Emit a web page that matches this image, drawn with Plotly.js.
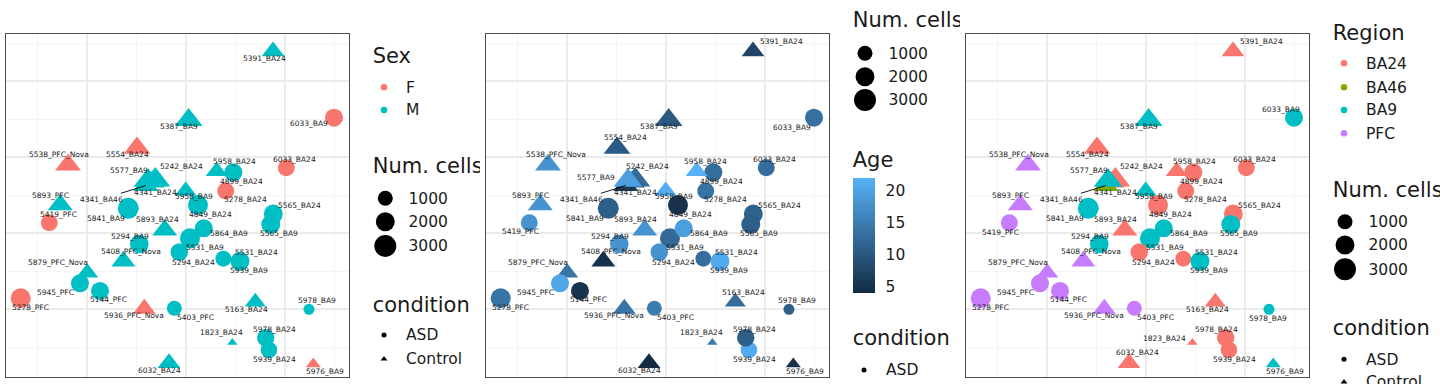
<!DOCTYPE html>
<html><head><meta charset="utf-8">
<script src="https://cdn.plot.ly/plotly-3.0.1.min.js"></script>
<style>html,body{margin:0;padding:0;background:#fff}#chart{width:1440px;height:384px}</style>
</head><body><div id="chart"></div>
<script>
// ---------------- data ----------------
const samples = ["5391_BA24","5387_BA9","6033_BA9","5554_BA24","5538_PFC_Nova","6033_BA24","4899_BA24","5958_BA24","4341_BA24","4341_BA46","5242_BA24","5577_BA9","5958_BA9","5278_BA24","5893_PFC","5565_BA24","5565_BA9","5841_BA9","4849_BA24","5419_PFC","5893_BA24","5531_BA9","5864_BA9","5294_BA9","5294_BA24","5408_PFC_Nova","5531_BA24","5939_BA9","5879_PFC_Nova","5945_PFC","5144_PFC","5278_PFC","5936_PFC_Nova","5403_PFC","5163_BA24","5978_BA9","1823_BA24","5939_BA24","5978_BA24","6032_BA24","5976_BA9"];
const dim1 = [0.879,0.027,1.495,-0.495,-1.192,1.013,0.478,0.310,-0.343,-0.406,-0.310,-0.384,-0.003,0.401,-1.270,0.882,0.856,-0.583,0.121,-1.381,-0.215,0.040,0.179,-0.472,-0.068,-0.633,0.377,0.545,-0.997,-1.071,-0.869,-1.670,-0.421,-0.118,0.700,1.242,0.468,0.838,0.805,-0.172,1.286];
const dim2 = [1.391,0.487,0.517,0.118,-0.105,-0.141,-0.201,-0.188,-0.329,-0.375,-0.303,-0.308,-0.447,-0.447,-0.629,-0.750,-0.886,-0.675,-0.632,-0.864,-0.961,-1.070,-0.938,-1.145,-1.250,-1.372,-1.338,-1.372,-1.522,-1.662,-1.763,-1.859,-1.996,-1.991,-1.908,-2.004,-2.442,-2.539,-2.378,-2.711,-2.724];
const numCells = [1450,2550,1750,2300,2100,1450,1750,1300,2000,1900,3100,2800,1300,1450,1900,2000,2000,2650,2350,1450,1900,2350,1750,1900,1600,1700,1200,2000,1300,1750,1750,2350,1450,1000,1150,340,60,1350,1600,1450,350];
const age = [7.5,10.3,13.3,10.5,18,13,13,22,9,6,12.5,19.5,21.5,13.5,18,11.5,11,11,5,18,18,12.5,19.5,18,18,5,13,21,14,20.5,5,14,14,15,13,11,15,21,11,4,4.5];
const sex = ["M","M","F","F","F","F","M","M","M","M","M","M","M","F","M","M","M","M","M","F","M","M","M","M","M","M","M","M","M","M","M","F","F","M","M","M","M","M","M","M","F"];
const region = ["BA24","BA9","BA9","BA24","PFC","BA24","BA24","BA24","BA24","BA46","BA24","BA9","BA9","BA24","PFC","BA24","BA9","BA9","BA24","PFC","BA24","BA9","BA9","BA9","BA24","PFC","BA24","BA9","PFC","PFC","PFC","PFC","PFC","PFC","BA24","BA9","BA24","BA24","BA24","BA24","BA9"];
const condition = ["Control","Control","ASD","Control","Control","ASD","ASD","Control","Control","Control","Control","Control","Control","ASD","Control","ASD","ASD","ASD","ASD","ASD","Control","ASD","ASD","ASD","ASD","Control","ASD","ASD","Control","ASD","ASD","ASD","Control","ASD","Control","ASD","Control","ASD","ASD","Control","Control"];

const sexLevels = ["F","M"];
const regionLevels = ["BA24","BA46","BA9","PFC"];
const conditionLevels = ["ASD","Control"];
const sizeBreaks = [1000,2000,3000];
const ageTicks = [5,10,15,20];

// ---------------- styles ----------------
const FONT = "DejaVu Sans, sans-serif";
const sexColors = {F:"#F8766D", M:"#00BFC4"};
const regionColors = {BA24:"#F8766D", BA46:"#7CAE00", BA9:"#00BFC4", PFC:"#C77CFF"};
const symbolFor = {ASD:"circle", Control:"triangle-up"};
function diam(n){ return 5.5 + 0.3*Math.sqrt(n); }
function msize(n, cond){ return cond === "Control" ? 1.167*diam(n) : diam(n); }

// label nudges in pixels [dx, dy(down)], with per-panel overrides
const nudge = {
 "5391_BA24":[-8.3,7],"5387_BA9":[-9.4,6.7],"6033_BA9":[-25.3,5.6],"5554_BA24":[-9.3,6.7],
 "5538_PFC_Nova":[-9,-10.3],"6033_BA24":[8.7,-8.4],"4899_BA24":[8.4,9.4],"5958_BA24":[18.3,-10],
 "4341_BA24":[3.8,10.7],"4341_BA46":[-44.1,13.8],"5242_BA24":[26.4,-13.3],"5577_BA9":[-18.7,-10.1],
 "5958_BA9":[8.5,5.7],"5278_BA24":[19.3,8.3],"5893_PFC":[-9.3,-9.5],"5565_BA24":[25.9,-8.5],
 "5565_BA9":[8.6,9],"5841_BA9":[-22,10],"4849_BA24":[12.7,9.7],"5419_PFC":[9,-8],
 "5893_BA24":[-7,-10.7],"5531_BA9":[15.3,9],"5864_BA9":[25.6,5],"5294_BA9":[-9,-7.3],
 "5294_BA24":[14.4,10.3],"5408_PFC_Nova":[7.9,-9.6],"5531_BA24":[32.7,-6.4],"5939_BA9":[9.3,9],
 "5879_PFC_Nova":[-29.3,-10.4],"5945_PFC":[-24,9],"5144_PFC":[9,9],"5278_PFC":[9.6,9],
 "5936_PFC_Nova":[-10,6.6],"5403_PFC":[20.7,9],"5163_BA24":[-8.3,7.3],"5978_BA9":[8.2,-9.3],
 "1823_BA24":[-11.3,-10.3],"5939_BA24":[6,9.3],"5978_BA24":[9.3,-8.4],"6032_BA24":[-9,7.7],
 "5976_BA9":[11.9,7.7]
};
const nudgeP2 = {"5391_BA24":[28,-9.6],"6033_BA9":[-21.8,10],"5554_BA24":[8.7,-10.7],"5538_PFC_Nova":[8.2,-10.3],
 "5958_BA24":[9,-10],"5242_BA24":[11.7,-13.3],"5577_BA9":[-32,-3.1],"5419_PFC":[-8.5,9],"5841_BA9":[-23.1,10],
 "5893_BA24":[-9,-10.7],"5163_BA24":[8.4,-9.7]};
const nudgeP3 = {"5391_BA24":[28,-9.6],"6033_BA9":[-12.7,-8.4],"5419_PFC":[-8.5,9.6],"5841_BA9":[-23.1,10],
 "5893_BA24":[-9,-10.7],"5978_BA9":[-0.5,9],"1823_BA24":[-28,-4.3],"5978_BA24":[-8.7,-8.4],"6032_BA24":[9,-10.7]};
const segmentLabels = ["4341_BA46"];

const W = 1440, H = 384;
const panelLeft = [5.7, 485.7, 965.7], panelW = 343.6;
const panelTop = 34.3, panelBottom = 377.3;
const xRange = [-1.8212, 1.6495], yRange = [-2.8987, 1.6145];

const traces = [];
const annotations = [];
const shapes = [];
const layout = {
  width: W, height: H, margin:{l:0,r:0,t:0,b:0},
  paper_bgcolor:"#fff", plot_bgcolor:"#fff", showlegend:false,
  font:{family:FONT, color:"#1a1a1a"}, annotations: annotations, shapes: shapes
};

function axisStyle(extra){
  return Object.assign({
    range: null, showticklabels:false, ticks:"", zeroline:false, fixedrange:true,
    showgrid:true, gridcolor:"#EBEBEB", gridwidth:1.6, dtick:1, tick0:0,
    minor:{dtick:0.5, tick0:0, showgrid:true, gridcolor:"#F2F2F2", gridwidth:0.8, ticks:""},
    showline:true, mirror:true, linecolor:"#4d4d4d", linewidth:1
  }, extra);
}

// colourbar geometry (Age legend)
const cbLeft = 852.7, cbTop = 178, cbBottom = 293, cbThick = 22.3;

for (let p = 0; p < 3; p++){
  const sfx = p === 0 ? "" : String(p+1);
  const xa = "x"+sfx, ya = "y"+sfx;
  layout["xaxis"+sfx] = axisStyle({domain:[panelLeft[p]/W, (panelLeft[p]+panelW)/W], range:xRange.slice(), anchor:ya});
  layout["yaxis"+sfx] = axisStyle({domain:[1-panelBottom/H, 1-panelTop/H], range:yRange.slice(), anchor:xa});
  const marker = {
    symbol: condition.map(c => symbolFor[c]),
    size: numCells.map((n,i) => msize(n, condition[i])),
    line:{width:0}, opacity:1
  };
  if (p === 0) marker.color = sex.map(s => sexColors[s]);
  if (p === 2) marker.color = region.map(r => regionColors[r]);
  if (p === 1){
    marker.color = age;
    marker.colorscale = [[0,"#132B43"],[1,"#56B1F7"]];
    marker.showscale = true;
    marker.colorbar = {
      x: cbLeft/W, xanchor:"left", xref:"paper", xpad:0,
      y: 1-(cbTop+cbBottom)/2/H, yanchor:"middle", yref:"paper", ypad:0,
      len: (cbBottom-cbTop)/H, lenmode:"fraction", thickness:cbThick, outlinewidth:0,
      tickmode:"array", tickvals: ageTicks, ticks:"outside", ticklen:8, tickcolor:"rgba(0,0,0,0)", tickwidth:1,
      tickfont:{family:FONT, size:15.5, color:"#1a1a1a"}
    };
  }
  traces.push({type:"scatter", mode:"markers", x:dim1, y:dim2, xaxis:xa, yaxis:ya,
    marker: marker, hoverinfo:"text", text:samples, cliponaxis:false});

  const over = p === 1 ? nudgeP2 : (p === 2 ? nudgeP3 : {});
  samples.forEach((s,i) => {
    const d = over[s] || nudge[s];
    const a = {xref:xa, yref:ya, x:dim1[i], y:dim2[i], text:s,
      font:{family:FONT, size:7.5, color:"#222"}, xanchor:"center", yanchor:"middle"};
    if (segmentLabels.includes(s)){
      Object.assign(a, {showarrow:true, ax:d[0], ay:d[1], arrowhead:0, arrowwidth:0.9, arrowcolor:"#000", standoff:0});
    } else {
      Object.assign(a, {showarrow:false, xshift:d[0], yshift:-d[1]});
    }
    annotations.push(a);
  });
}

// white tick marks inside the colourbar at both edges (ggplot style)
const ageMin = Math.min(...age), ageMax = Math.max(...age);
ageTicks.forEach(v => {
  const py = cbBottom - (v-ageMin)/(ageMax-ageMin)*(cbBottom-cbTop);
  [[cbLeft, cbLeft+4.5],[cbLeft+cbThick-4.5, cbLeft+cbThick]].forEach(seg => {
    shapes.push({type:"line", xref:"paper", yref:"paper", x0:seg[0]/W, x1:seg[1]/W, y0:1-py/H, y1:1-py/H,
      line:{color:"#ffffff", width:1}, layer:"above"});
  });
});

// ---------------- legends (pixel-unit overlay axes, clipped per image) ----------------
const legendBoxes = [[350,480],[830,960],[1310,1440]];
legendBoxes.forEach((b,k) => {
  const n = 4+k;
  layout["xaxis"+n] = {domain:[b[0]/W, b[1]/W], range:[b[0], b[1]], visible:false, fixedrange:true, anchor:"y"+n};
  layout["yaxis"+n] = {domain:[0,1], range:[H,0], visible:false, fixedrange:true, anchor:"x"+n};
});
const TY = 1.5; // small vertical correction for text centring
function legText(k, x, y, txt, size){
  traces.push({type:"scatter", mode:"text", x:[x], y:[y+TY], text:[txt], textposition:"middle right",
    textfont:{family:FONT, size:size, color:"#1a1a1a"}, xaxis:"x"+(4+k), yaxis:"y"+(4+k),
    hoverinfo:"skip", cliponaxis:true});
}
function legKey(k, x, y, symbol, size, color){
  traces.push({type:"scatter", mode:"markers", x:[x], y:[y], xaxis:"x"+(4+k), yaxis:"y"+(4+k),
    marker:{symbol:symbol, size:size, color:color, line:{width:0}}, hoverinfo:"skip", cliponaxis:true});
}
const TS = 21, LS = 15.5;
// legend 1: Sex / Num. cells / condition
legText(0, 372.7, 56.7, "Sex", TS);
sexLevels.forEach((s,i) => { const y = [87.3,110][i]; legKey(0, 384, y, "circle", 6.5, sexColors[s]); legText(0, 406, y, s, LS); });
legText(0, 372.7, 166.7, "Num. cells", TS);
sizeBreaks.forEach((v,i) => { const y = [198.3,221.7,246][i]; legKey(0, 385.3, y, "circle", diam(v), "#000"); legText(0, 408.5, y, String(v), LS); });
legText(0, 372.7, 305, "condition", TS);
conditionLevels.forEach((c,i) => { const y = [335,359][i]; legKey(0, 384, y, symbolFor[c], c==="ASD"?5:6, "#000"); legText(0, 406, y, c, LS); });
// legend 2: Num. cells / Age / condition
legText(1, 852.7, 20.7, "Num. cells", TS);
sizeBreaks.forEach((v,i) => { const y = [53.3,76.7,100][i]; legKey(1, 865, y, "circle", diam(v), "#000"); legText(1, 888.5, y, String(v), LS); });
legText(1, 852.7, 160, "Age", TS);
legText(1, 852.7, 338, "condition", TS);
conditionLevels.forEach((c,i) => { const y = [370,394][i]; legKey(1, 864, y, symbolFor[c], c==="ASD"?5:6, "#000"); legText(1, 886, y, c, LS); });
// legend 3: Region / Num. cells / condition
legText(2, 1332.7, 33.3, "Region", TS);
regionLevels.forEach((r,i) => { const y = [63.3,87.3,110,133.3][i]; legKey(2, 1344, y, "circle", 6.5, regionColors[r]); legText(2, 1366, y, r, LS); });
legText(2, 1332.7, 190, "Num. cells", TS);
sizeBreaks.forEach((v,i) => { const y = [221.7,245,269.3][i]; legKey(2, 1345, y, "circle", diam(v), "#000"); legText(2, 1368.5, y, String(v), LS); });
legText(2, 1332.7, 328.3, "condition", TS);
conditionLevels.forEach((c,i) => { const y = [359.3,382][i]; legKey(2, 1344, y, symbolFor[c], c==="ASD"?5:6, "#000"); legText(2, 1366, y, c, LS); });

Plotly.newPlot("chart", traces, layout, {staticPlot:true, displayModeBar:false});
</script></body></html>
